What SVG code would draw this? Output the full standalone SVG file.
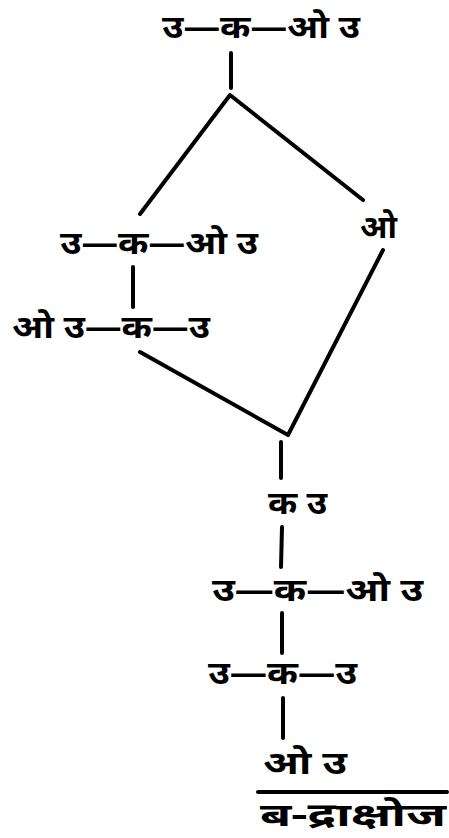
<svg xmlns="http://www.w3.org/2000/svg" width="449" height="838" viewBox="0 0 449 838">
<style>
.t{font-family:"Noto Sans","Noto Sans Devanagari","Lohit Devanagari",sans-serif;font-size:32px;font-weight:bold;fill:#000}
.c{stroke:#000;stroke-width:4;fill:none;stroke-linecap:round;stroke-linejoin:round}
</style>
<rect width="449" height="838" fill="#fff"/>
<g id="connectors">
<line class="c" x1="231" y1="53" x2="231" y2="88"/>
<polyline class="c" points="140,214 230,95 363,200"/>
<line class="c" x1="133" y1="267" x2="133" y2="307"/>
<polyline class="c" points="383,250 288,435 140,352"/>
<line class="c" x1="281" y1="442" x2="281" y2="478"/>
<line class="c" x1="282" y1="527" x2="281" y2="567"/>
<line class="c" x1="282" y1="613" x2="282" y2="653"/>
<line class="c" x1="283" y1="698" x2="283" y2="738"/>
<line class="c" x1="258" y1="792" x2="447" y2="792"/>
</g>
<g id="n1"><text class="t" x="162" y="38" textLength="198" lengthAdjust="spacingAndGlyphs">उ—क—ओ उ</text></g>
<g id="n2"><text class="t" x="60" y="254" textLength="198" lengthAdjust="spacingAndGlyphs">उ—क—ओ उ</text></g>
<g id="n3"><text class="t" x="360" y="238" textLength="37" lengthAdjust="spacingAndGlyphs">ओ</text></g>
<g id="n4"><text class="t" x="12" y="338" textLength="198" lengthAdjust="spacingAndGlyphs">ओ उ—क—उ</text></g>
<g id="n5"><text class="t" x="268" y="514" textLength="59" lengthAdjust="spacingAndGlyphs">क उ</text></g>
<g id="n6"><text class="t" x="212" y="601" textLength="211" lengthAdjust="spacingAndGlyphs">उ—क—ओ उ</text></g>
<g id="n7"><text class="t" x="208" y="684" textLength="149" lengthAdjust="spacingAndGlyphs">उ—क—उ</text></g>
<g id="n8"><text class="t" x="263" y="774" textLength="84" lengthAdjust="spacingAndGlyphs">ओ उ</text></g>
<g id="n9"><text class="t" x="260" y="826" textLength="186" lengthAdjust="spacingAndGlyphs">ब-द्राक्षोज</text></g>
</svg>
